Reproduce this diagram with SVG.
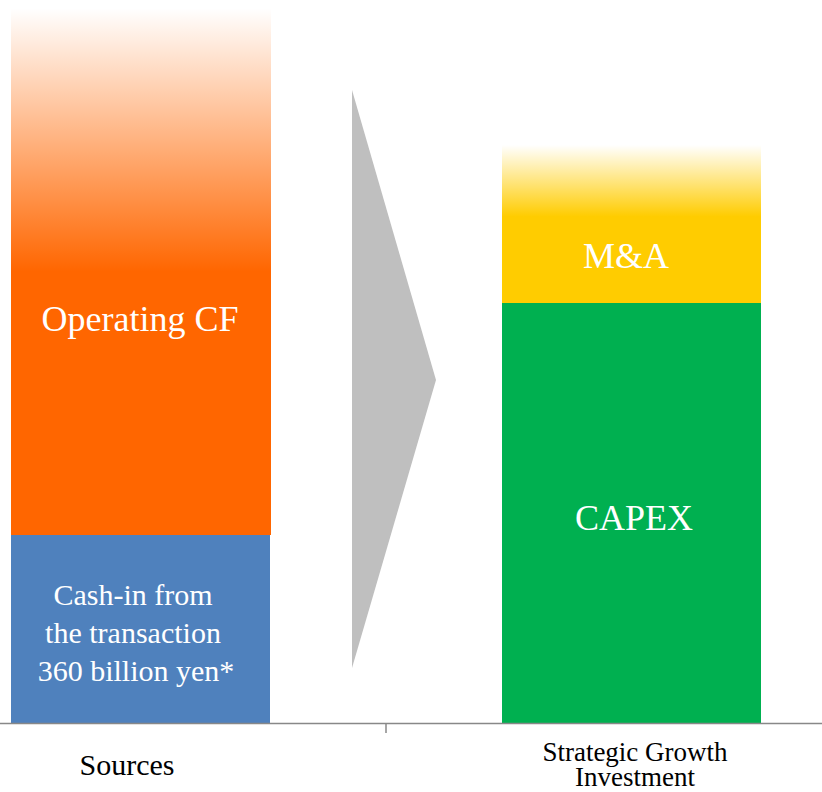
<svg xmlns="http://www.w3.org/2000/svg" width="822" height="792" viewBox="0 0 822 792">
<style>
text{font-family:'Liberation Serif','Times New Roman',Times,serif;text-anchor:middle}
.lbl{fill:#fff}
.axl{fill:#000}
</style>
<defs>
<linearGradient id="gOr" x1="0" y1="0" x2="0" y2="1">
<stop offset="0" stop-color="#FF6600" stop-opacity="0"/>
<stop offset="0.5" stop-color="#FF6600" stop-opacity="1"/>
<stop offset="1" stop-color="#FF6600" stop-opacity="1"/>
</linearGradient>
<linearGradient id="gYe" x1="0" y1="0" x2="0" y2="1">
<stop offset="0" stop-color="#FFCC00" stop-opacity="0"/>
<stop offset="0.45" stop-color="#FFCC00" stop-opacity="1"/>
<stop offset="1" stop-color="#FFCC00" stop-opacity="1"/>
</linearGradient>
</defs>
<rect width="822" height="792" fill="#fff"/>
<g id="operating-cf">
<rect x="11" y="8" width="260" height="527" fill="url(#gOr)"/>
<text class="lbl" x="140" y="331" font-size="36" font-family="Liberation Serif, serif">Operating CF</text>
</g>
<g id="cash-in">
<rect x="11" y="535" width="259" height="188" fill="#4F81BD"/>
<text class="lbl" x="133" y="605" font-size="30" font-family="Liberation Serif, serif">Cash-in from</text>
<text class="lbl" x="133" y="643" font-size="30" font-family="Liberation Serif, serif">the transaction</text>
<text class="lbl" x="136" y="681" font-size="30" font-family="Liberation Serif, serif">360 billion yen*</text>
</g>
<g id="arrow">
<polygon points="352,90 436,380 352,668" fill="#BFBFBF"/>
</g>
<g id="ma">
<rect x="502" y="145" width="259" height="159" fill="url(#gYe)"/>
<text class="lbl" x="626" y="268" font-size="36" font-family="Liberation Serif, serif">M&amp;A</text>
</g>
<g id="capex">
<rect x="502" y="303" width="259" height="420" fill="#00B050"/>
<text class="lbl" x="634" y="530" font-size="36" font-family="Liberation Serif, serif">CAPEX</text>
</g>
<g id="connectors">
<line x1="0" y1="723.5" x2="822" y2="723.5" stroke="#888" stroke-width="1.5"/>
<line x1="386" y1="723" x2="386" y2="733" stroke="#888" stroke-width="1.5"/>
</g>
<g id="axis-labels">
<text class="axl" x="127" y="775" font-size="30" font-family="Liberation Serif, serif">Sources</text>
<text class="axl" x="635" y="761" font-size="27" font-family="Liberation Serif, serif">Strategic Growth</text>
<text class="axl" x="635" y="786" font-size="27" font-family="Liberation Serif, serif">Investment</text>
</g>
</svg>
